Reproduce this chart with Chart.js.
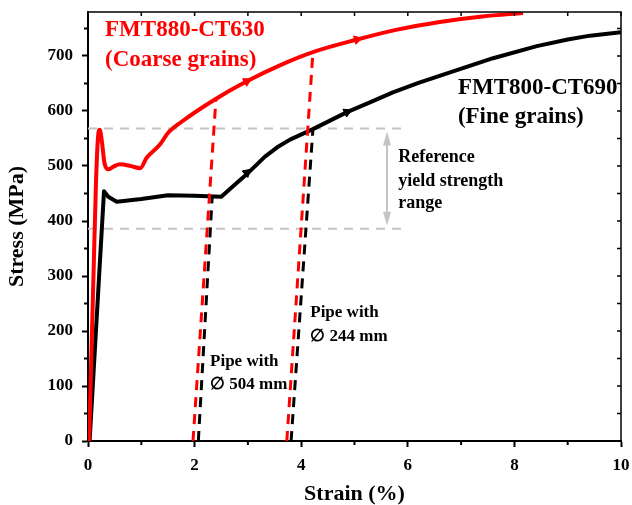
<!DOCTYPE html>
<html>
<head>
<meta charset="utf-8">
<script src="https://cdn.jsdelivr.net/npm/chart.js@4.4.0/dist/chart.umd.min.js"></script>
<style>
  html, body { margin: 0; padding: 0; background: #fff; }
  #wrap { width: 632px; height: 505px; }
</style>
</head>
<body>
<div id="wrap"><canvas id="stressChart"></canvas></div>
<script>
// Coarse grains curve (FMT880-CT630): strain in %, stress in MPa
const coarseStrain = [0.02, 0.10, 0.15, 0.19, 0.22, 0.26, 0.31, 0.38, 0.48, 0.60, 0.80, 0.98, 1.10, 1.35, 1.50, 1.75, 2.38, 2.98, 3.60, 4.22, 5.05, 5.80, 6.60, 7.40, 8.16];
const coarseStress = [0, 290, 470, 555, 566, 545, 505, 494, 499, 503, 500, 496, 515, 539, 560, 580, 621, 654, 683, 707, 730, 748, 762, 772, 778];

// Fine grains curve (FMT800-CT690)
const fineStrain = [0.03, 0.30, 0.38, 0.54, 1.00, 1.50, 2.00, 2.50, 2.80, 3.00, 3.32, 3.55, 3.79, 4.22, 4.86, 5.30, 5.72, 6.20, 6.85, 7.60, 8.42, 9.00, 9.42, 10.0];
const fineStress = [0, 454, 444, 435, 440, 447, 446, 444, 470, 487, 517, 534, 548, 567, 598, 616, 634, 651, 672, 696, 718, 730, 737, 743];

// Direction arrows on the curves
const coarseArrowStrain = [2.98, 5.05];
const coarseArrowStress = [654, 730];
const fineArrowStrain = [2.98, 4.86];
const fineArrowStress = [488, 598];

// Unloading lines, pipe with 504 mm
const unload504CoarseStrain = [1.97, 2.40];
const unload504CoarseStress = [0, 621];
const unload504FineStrain = [2.07, 2.33];
const unload504FineStress = [0, 444];

// Unloading lines, pipe with 244 mm
const unload244CoarseStrain = [3.73, 4.22];
const unload244CoarseStress = [0, 707];
const unload244FineStrain = [3.81, 4.22];
const unload244FineStress = [0, 567];

// Reference yield strength range
const refYield = [386, 568];
const refBandStrain = [0, 5.95];
const refArrowStrain = 5.61;

// Axis ticks
const strainTicks = [0, 2, 4, 6, 8, 10];
const strainMinor = [1, 3, 5, 7, 9];
const stressTicks = [0, 100, 200, 300, 400, 500, 600, 700];
const stressMinor = [50, 150, 250, 350, 450, 550, 650, 750];

// Text labels placed in data coordinates
const labelText = ['FMT880-CT630', '(Coarse grains)', 'FMT800-CT690', '(Fine grains)',
  'Reference', 'yield strength', 'range', 'Pipe with', '\u2205 244 mm', 'Pipe with', '\u2205 504 mm'];
const labelStrain = [0.32, 0.32, 6.94, 6.94, 5.82, 5.82, 5.82, 4.17, 4.17, 2.29, 2.29];
const labelStress = [747, 693, 642, 589, 515, 472, 432, 233, 189, 144, 102];

const RED = '#ff0000';
const BLACK = '#000000';
const GRAY = '#c4c4c4';
const SERIF = '"Liberation Serif", "Times New Roman", "DejaVu Serif", serif';
const labelColor = [RED, RED, BLACK, BLACK, BLACK, BLACK, BLACK, BLACK, BLACK, BLACK, BLACK];
const labelSize = [23, 23, 23, 23, 18, 18, 18, 17, 17, 17, 17];

function pts(xs, ys) {
    return xs.map((x, i) => ({ x: x, y: ys[i] }));
}

// Frame, minor ticks, text and the range arrow
const decorPlugin = {
    id: 'decor',
    beforeDatasetsDraw(chart) {
        const { ctx, scales: { x, y } } = chart;
        // grey double arrow for the reference range
        const ax = x.getPixelForValue(refArrowStrain);
        const y1 = y.getPixelForValue(refYield[1]) + 3;
        const y0 = y.getPixelForValue(refYield[0]) - 3;
        ctx.save();
        ctx.strokeStyle = GRAY;
        ctx.fillStyle = GRAY;
        ctx.lineWidth = 2;
        ctx.beginPath();
        ctx.moveTo(ax, y1 + 10);
        ctx.lineTo(ax, y0 - 10);
        ctx.stroke();
        ctx.beginPath();
        ctx.moveTo(ax, y1);
        ctx.lineTo(ax - 4, y1 + 14);
        ctx.lineTo(ax + 4, y1 + 14);
        ctx.closePath();
        ctx.fill();
        ctx.beginPath();
        ctx.moveTo(ax, y0);
        ctx.lineTo(ax - 4, y0 - 14);
        ctx.lineTo(ax + 4, y0 - 14);
        ctx.closePath();
        ctx.fill();
        ctx.restore();
    },
    afterDraw(chart) {
        const { ctx, chartArea: a, scales: { x, y } } = chart;
        ctx.save();
        ctx.strokeStyle = BLACK;
        // top and right frame
        ctx.lineWidth = 1.5;
        ctx.beginPath();
        ctx.moveTo(a.left, a.top);
        ctx.lineTo(a.right, a.top);
        ctx.lineTo(a.right, a.bottom);
        ctx.stroke();
        // inward ticks on top and right
        strainTicks.concat(strainMinor).forEach(v => {
            const px = x.getPixelForValue(v);
            ctx.beginPath();
            ctx.moveTo(px, a.top);
            ctx.lineTo(px, a.top + 4);
            ctx.stroke();
        });
        stressTicks.concat(stressMinor).forEach(v => {
            const py = y.getPixelForValue(v);
            ctx.beginPath();
            ctx.moveTo(a.right, py);
            ctx.lineTo(a.right - 4, py);
            ctx.stroke();
        });
        // outward minor ticks on bottom and left
        ctx.lineWidth = 2;
        strainMinor.forEach(v => {
            const px = x.getPixelForValue(v);
            ctx.beginPath();
            ctx.moveTo(px, a.bottom);
            ctx.lineTo(px, a.bottom + 4);
            ctx.stroke();
        });
        stressMinor.forEach(v => {
            const py = y.getPixelForValue(v);
            ctx.beginPath();
            ctx.moveTo(a.left, py);
            ctx.lineTo(a.left - 4, py);
            ctx.stroke();
        });
        // text labels
        ctx.textAlign = 'left';
        ctx.textBaseline = 'middle';
        labelText.forEach((t, i) => {
            ctx.fillStyle = labelColor[i];
            ctx.font = 'bold ' + labelSize[i] + 'px ' + SERIF;
            ctx.fillText(t, x.getPixelForValue(labelStrain[i]), y.getPixelForValue(labelStress[i]));
        });
        ctx.restore();
    }
};

function initChart() {
    const ctx = document.getElementById('stressChart').getContext('2d');

    const dashed = (xs, ys, color, order) => ({
        data: pts(xs, ys),
        borderColor: color,
        borderWidth: 3,
        borderDash: [10, 7],
        pointRadius: 0,
        order: order
    });

    new Chart(ctx, {
        type: 'line',
        data: {
            datasets: [
                // reference range lines
                {
                    data: pts(refBandStrain, [refYield[1], refYield[1]]),
                    borderColor: GRAY, borderWidth: 2, borderDash: [9, 7], pointRadius: 0, order: 10
                },
                {
                    data: pts(refBandStrain, [refYield[0], refYield[0]]),
                    borderColor: GRAY, borderWidth: 2, borderDash: [9, 7], pointRadius: 0, order: 10
                },
                {
                    label: 'FMT800-CT690',
                    data: pts(fineStrain, fineStress),
                    borderColor: BLACK,
                    borderWidth: 4,
                    pointRadius: 0,
                    tension: 0,
                    borderJoinStyle: 'round',
                    order: 6
                },
                {
                    label: 'FMT880-CT630',
                    data: pts(coarseStrain, coarseStress),
                    borderColor: RED,
                    borderWidth: 4,
                    pointRadius: 0,
                    cubicInterpolationMode: 'monotone',
                    order: 5
                },
                dashed(unload504FineStrain, unload504FineStress, BLACK, 3),
                dashed(unload504CoarseStrain, unload504CoarseStress, RED, 2),
                dashed(unload244FineStrain, unload244FineStress, BLACK, 3),
                dashed(unload244CoarseStrain, unload244CoarseStress, RED, 2),
                // arrow heads
                {
                    data: pts(coarseArrowStrain, coarseArrowStress),
                    showLine: false,
                    pointStyle: 'triangle',
                    pointRadius: 5,
                    pointRotation: [62, 75],
                    backgroundColor: RED,
                    borderColor: RED,
                    borderWidth: 1,
                    order: 1
                },
                {
                    data: pts(fineArrowStrain, fineArrowStress),
                    showLine: false,
                    pointStyle: 'triangle',
                    pointRadius: 5,
                    pointRotation: [48, 65],
                    backgroundColor: BLACK,
                    borderColor: BLACK,
                    borderWidth: 1,
                    order: 1
                }
            ]
        },
        options: {
            responsive: true,
            maintainAspectRatio: false,
            animation: false,
            layout: { padding: { top: 12, right: 11, left: 0, bottom: 0 } },
            plugins: {
                legend: { display: false },
                tooltip: { enabled: false }
            },
            scales: {
                x: {
                    type: 'linear',
                    min: 0,
                    max: 10,
                    afterBuildTicks: s => { s.ticks = strainTicks.map(v => ({ value: v })); },
                    afterFit: s => { s.height = 64; s.paddingLeft = 0; s.paddingRight = 0; },
                    border: { color: BLACK, width: 2 },
                    grid: { drawOnChartArea: false, tickLength: 6, tickColor: BLACK, tickWidth: 2 },
                    ticks: {
                        color: BLACK,
                        padding: 8,
                        maxRotation: 0,
                        font: { family: SERIF, size: 17, weight: 'bold' }
                    },
                    title: {
                        display: true,
                        text: 'Strain (%)',
                        color: BLACK,
                        padding: { top: 0, bottom: 0 },
                        font: { family: SERIF, size: 22, weight: 'bold', lineHeight: 1 }
                    }
                },
                y: {
                    min: 0,
                    max: 780,
                    afterBuildTicks: s => { s.ticks = stressTicks.map(v => ({ value: v })); },
                    afterFit: s => { s.width = 88; s.paddingTop = 0; s.paddingBottom = 0; },
                    border: { color: BLACK, width: 2 },
                    grid: { drawOnChartArea: false, tickLength: 6, tickColor: BLACK, tickWidth: 2 },
                    ticks: {
                        color: BLACK,
                        padding: 9,
                        font: { family: SERIF, size: 17, weight: 'bold' }
                    },
                    title: {
                        display: true,
                        text: 'Stress (MPa)',
                        color: BLACK,
                        padding: { top: 6, bottom: 0 },
                        font: { family: SERIF, size: 22, weight: 'bold', lineHeight: 1 }
                    }
                }
            }
        },
        plugins: [decorPlugin]
    });
}

document.addEventListener('DOMContentLoaded', initChart);
</script>
</body>
</html>
